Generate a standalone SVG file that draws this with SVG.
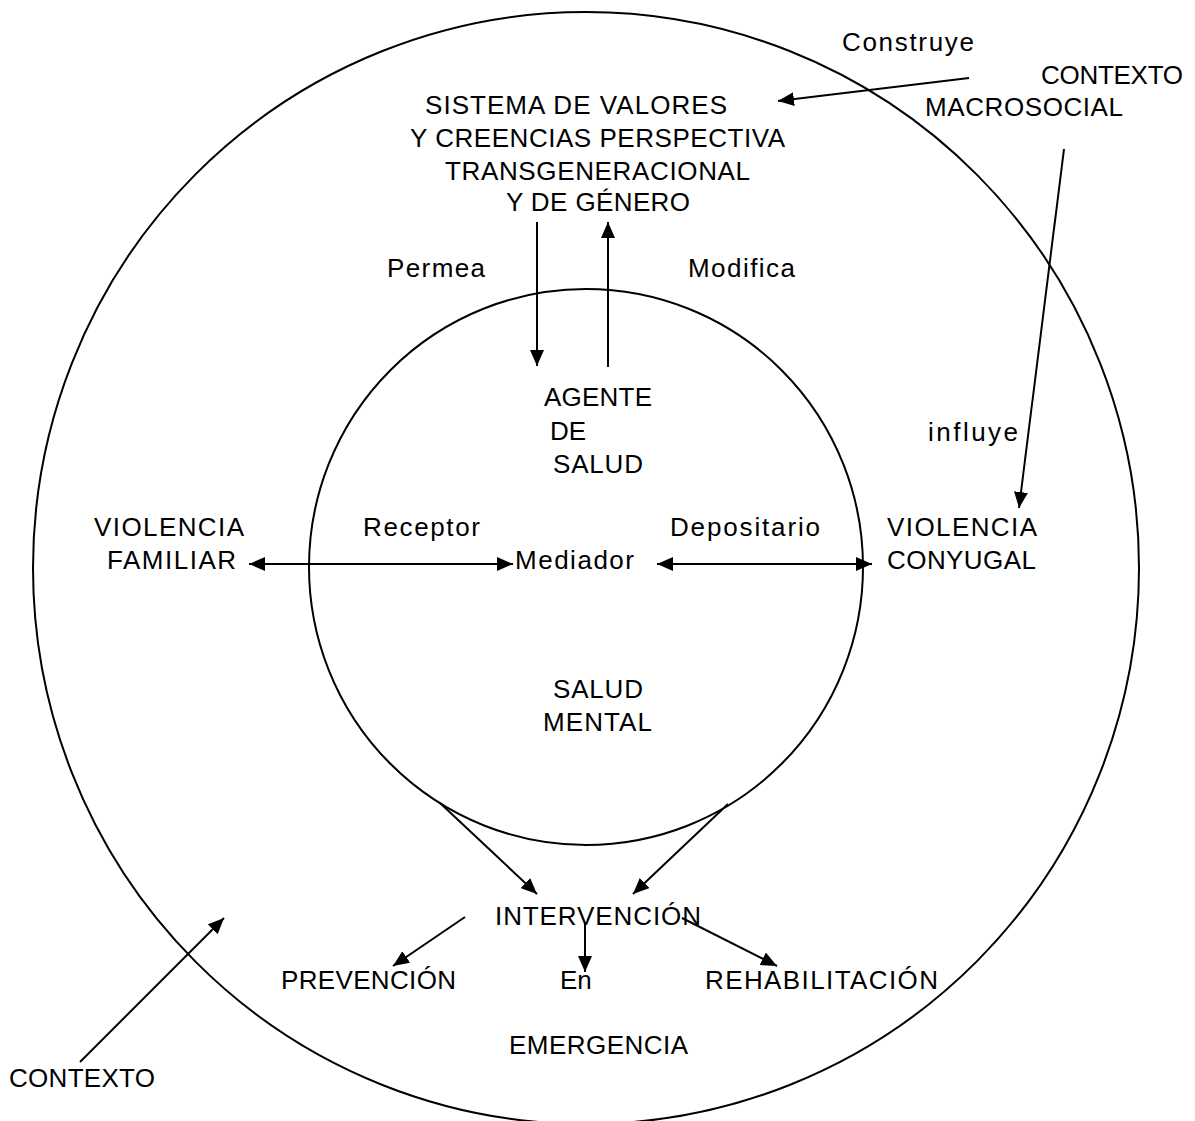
<svg xmlns="http://www.w3.org/2000/svg" width="1195" height="1121" viewBox="0 0 1195 1121">
<style>
text{font-family:"Liberation Sans",Arial,sans-serif;font-size:26px;fill:#000}
.ln{stroke:#000;stroke-width:2;fill:none}
.ar{stroke:#000;stroke-width:2;fill:none;marker-end:url(#ah)}
.dar{stroke:#000;stroke-width:2;fill:none;marker-end:url(#ah);marker-start:url(#ahs)}
</style>
<defs>
<marker id="ah" markerWidth="16" markerHeight="14" refX="16" refY="7" orient="auto" markerUnits="userSpaceOnUse" viewBox="0 0 16 14">
<path d="M0,0 L16,7 L0,14 Z" fill="#000"/>
</marker>
<marker id="ahs" markerWidth="16" markerHeight="14" refX="0" refY="7" orient="auto" markerUnits="userSpaceOnUse" viewBox="0 0 16 14">
<path d="M16,0 L0,7 L16,14 Z" fill="#000"/>
</marker>
</defs>
<rect width="1195" height="1121" fill="#fff"/>
<g id="outer-circle"><ellipse class="ln" cx="586" cy="568" rx="553" ry="556"/></g>
<g id="inner-circle"><ellipse class="ln" cx="586" cy="567" rx="277" ry="278"/></g>
<g id="connectors">
<line class="ar" x1="969" y1="78" x2="778" y2="101"/>
<line class="ar" x1="1064" y1="149" x2="1019" y2="508"/>
<line class="ar" x1="537" y1="222" x2="537" y2="366"/>
<line class="ar" x1="608" y1="367" x2="608" y2="222"/>
<line class="dar" x1="249" y1="564" x2="513" y2="564"/>
<line class="dar" x1="657" y1="564" x2="872" y2="564"/>
<line class="ar" x1="440" y1="803" x2="537" y2="894"/>
<line class="ar" x1="728" y1="804" x2="633" y2="894"/>
<line class="ar" x1="465" y1="917" x2="393" y2="966"/>
<line class="ar" x1="585" y1="922" x2="585" y2="972"/>
<line class="ar" x1="682" y1="918" x2="777" y2="966"/>
<line class="ar" x1="80" y1="1062" x2="224" y2="918"/>
</g>
<g id="label-construye"><text x="842" y="51" textLength="132" lengthAdjust="spacing">Construye</text></g>
<g id="node-contexto-macrosocial"><text x="1041" y="84" textLength="142" lengthAdjust="spacing">CONTEXTO</text><text x="925" y="116" textLength="198" lengthAdjust="spacing">MACROSOCIAL</text></g>
<g id="node-sistema"><text x="425" y="114" textLength="302" lengthAdjust="spacing">SISTEMA DE VALORES</text><text x="410" y="147" textLength="375" lengthAdjust="spacing">Y CREENCIAS PERSPECTIVA</text><text x="445" y="180" textLength="305" lengthAdjust="spacing">TRANSGENERACIONAL</text><text x="506" y="211" textLength="184" lengthAdjust="spacing">Y DE GÉNERO</text></g>
<g id="label-permea"><text x="387" y="277" textLength="98" lengthAdjust="spacing">Permea</text></g>
<g id="label-modifica"><text x="688" y="277" textLength="107" lengthAdjust="spacing">Modifica</text></g>
<g id="node-agente"><text x="544" y="406" textLength="108" lengthAdjust="spacing">AGENTE</text><text x="550" y="440">DE</text><text x="553" y="473" textLength="90" lengthAdjust="spacing">SALUD</text></g>
<g id="label-influye"><text x="928" y="441" textLength="90" lengthAdjust="spacing">influye</text></g>
<g id="node-violencia-familiar"><text x="94" y="536" textLength="150" lengthAdjust="spacing">VIOLENCIA</text><text x="107" y="569" textLength="129" lengthAdjust="spacing">FAMILIAR</text></g>
<g id="label-receptor"><text x="363" y="536" textLength="117" lengthAdjust="spacing">Receptor</text></g>
<g id="node-mediador"><text x="515" y="569" textLength="119" lengthAdjust="spacing">Mediador</text></g>
<g id="label-depositario"><text x="670" y="536" textLength="150" lengthAdjust="spacing">Depositario</text></g>
<g id="node-violencia-conyugal"><text x="887" y="536" textLength="150" lengthAdjust="spacing">VIOLENCIA</text><text x="887" y="569" textLength="149" lengthAdjust="spacing">CONYUGAL</text></g>
<g id="node-salud-mental"><text x="553" y="698" textLength="90" lengthAdjust="spacing">SALUD</text><text x="543" y="731" textLength="109" lengthAdjust="spacing">MENTAL</text></g>
<g id="node-intervencion"><text x="495" y="925" textLength="206" lengthAdjust="spacing">INTERVENCIÓN</text></g>
<g id="node-prevencion"><text x="281" y="989" textLength="175" lengthAdjust="spacing">PREVENCIÓN</text></g>
<g id="node-emergencia"><text x="560" y="989">En</text><text x="509" y="1054" textLength="179" lengthAdjust="spacing">EMERGENCIA</text></g>
<g id="node-rehabilitacion"><text x="705" y="989" textLength="233" lengthAdjust="spacing">REHABILITACIÓN</text></g>
<g id="node-contexto"><text x="9" y="1087" textLength="146" lengthAdjust="spacing">CONTEXTO</text></g>
</svg>
